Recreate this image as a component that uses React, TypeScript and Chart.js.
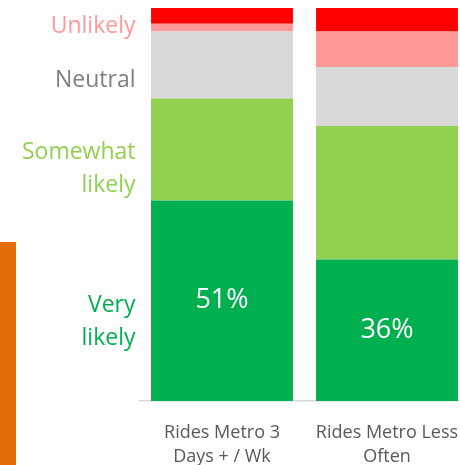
import React, { useEffect, useRef } from "react";
import { Chart, registerables } from "chart.js";

Chart.register(...registerables);

const categories: string[][] = [["Rides Metro 3", "Days + / Wk"], ["Rides Metro Less", "Often"]];
const seriesNames = ["Very likely", "Somewhat likely", "Neutral", "Unlikely", "Very unlikely"];
const veryLikely = [51, 36];
const somewhatLikely = [26, 34];
const neutral = [17, 15];
const unlikely = [2, 9];
const veryUnlikely = [4, 6];
const seriesColors = ["#00B050", "#92D050", "#D9D9D9", "#FF9999", "#FF0000"];
const valueLabels = ["51%", "36%"];

// side legend labels: text lines, colour, anchor value (baseline of first line, in % of scale)
const sideLabels: { lines: string[]; color: string; anchor: number }[] = [
  { lines: ["Unlikely"], color: "#FF9999", anchor: 93.6 },
  { lines: ["Neutral"], color: "#7F7F7F", anchor: 79.9 },
  { lines: ["Somewhat", "likely"], color: "#92D050", anchor: 61.6 },
  { lines: ["Very", "likely"], color: "#00B050", anchor: 22.6 },
];

const FONT = "'Open Sans', 'Noto Sans', sans-serif";

export default function App() {
  const ref = useRef<HTMLCanvasElement | null>(null);
  useEffect(() => {
    document.body.style.margin = "0";
    document.body.style.overflow = "hidden";
    const canvas = ref.current!;
    const valuePlugin = {
      id: "valueLabels",
      afterDatasetsDraw(chart: any) {
        const ctx = chart.ctx;
        const meta = chart.getDatasetMeta(0);
        ctx.save();
        ctx.fillStyle = "#FFFFFF";
        ctx.font = `27px ${FONT}`;
        ctx.textAlign = "center";
        ctx.textBaseline = "middle";
        meta.data.forEach((el: any, i: number) => {
          ctx.fillText(valueLabels[i], el.x, (el.y + el.base) / 2);
        });
        ctx.restore();
      },
    };
    const sidePlugin = {
      id: "sideLabels",
      afterDraw(chart: any) {
        const ctx = chart.ctx;
        const y = chart.scales.y;
        ctx.save();
        ctx.font = `23px ${FONT}`;
        ctx.textAlign = "right";
        ctx.textBaseline = "alphabetic";
        const x = chart.chartArea.left - 4;
        sideLabels.forEach((s) => {
          ctx.fillStyle = s.color;
          const base = y.getPixelForValue(s.anchor);
          s.lines.forEach((ln, j) => ctx.fillText(ln, x, base + j * 33));
        });
        ctx.restore();
      },
    };
    const data = [veryLikely, somewhatLikely, neutral, unlikely, veryUnlikely];
    const chart = new Chart(canvas, {
      type: "bar",
      data: {
        labels: categories,
        datasets: data.map((d, i) => ({
          label: seriesNames[i],
          data: d,
          backgroundColor: seriesColors[i],
          borderWidth: 0,
          barPercentage: 0.86,
          categoryPercentage: 1,
        })),
      },
      options: {
        animation: false,
        responsive: false,
        maintainAspectRatio: false,
        layout: { padding: { left: 139.5, right: 10.5, top: 8, bottom: 0 } },
        plugins: { legend: { display: false }, tooltip: { enabled: false } },
        scales: {
          x: {
            stacked: true,
            grid: { display: false },
            border: { display: true, color: "#D9D9D9", width: 1.5 },
            ticks: {
              color: "#595959",
              font: { family: FONT, size: 18, lineHeight: 1.33 },
              padding: 12,
              maxRotation: 0,
              autoSkip: false,
            },
            afterFit: (scale: any) => {
              scale.height = 64;
            },
          },
          y: { stacked: true, display: false, min: 0, max: 100 },
        },
      },
      plugins: [valuePlugin, sidePlugin],
    });
    return () => chart.destroy();
  }, []);
  return (
    <div style={{ position: "absolute", left: 0, top: 0, width: 460, height: 465, overflow: "hidden", background: "#fff" }}>
      <canvas ref={ref} width={480} height={465} style={{ display: "block", width: 480, height: 465 }} />
      <div style={{ position: "absolute", left: 0, top: 242, width: 16, height: 223, background: "#E46C0A" }} />
    </div>
  );
}
